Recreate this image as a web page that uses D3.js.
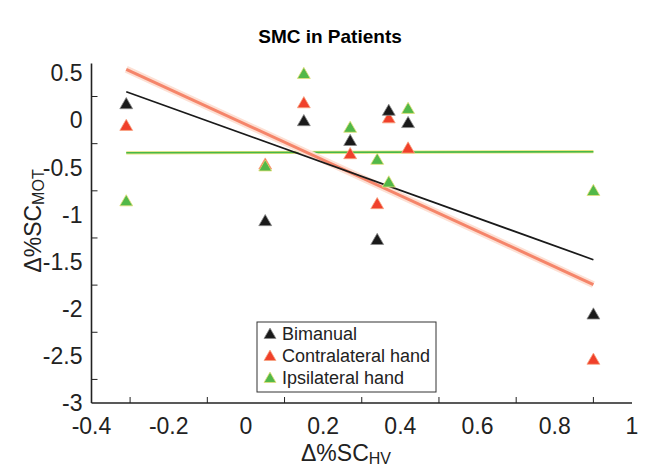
<!DOCTYPE html>
<html>
<head>
<meta charset="utf-8">
<script src="https://cdn.jsdelivr.net/npm/d3@7"></script>
<style>
  body { margin: 0; background: #fff; }
  svg { font-family: "Liberation Sans", Arial, Helvetica, sans-serif; }
</style>
</head>
<body>
<div id="chart"></div>
<script>
// Data: one x value per patient, three conditions
var deltaHV = [-0.31, 0.05, 0.15, 0.27, 0.34, 0.37, 0.42, 0.9];
var bimanual = [0.16, -1.08, -0.02, -0.23, -1.28, 0.09, -0.04, -2.07];
var contralateral = [-0.07, -0.48, 0.17, -0.37, -0.9, 0.01, -0.31, -2.55];
var ipsilateral = [-0.87, -0.5, 0.48, -0.09, -0.43, -0.67, 0.11, -0.76];

var seriesNames = ["Bimanual", "Contralateral hand", "Ipsilateral hand"];
var xTickLabels = [-0.4, -0.2, 0, 0.2, 0.4, 0.6, 0.8, 1];
var yTickLabels = [0.5, 0, -0.5, -1, -1.5, -2, -2.5, -3];
var xMinorTicks = [-0.3, -0.1, 0.1, 0.3, 0.5, 0.7, 0.9];
var yMinorTicks = [0.25, -0.25, -0.75, -1.25, -1.75, -2.25, -2.75];

var W = 651, H = 467;

// least squares fit, drawn across the x range of the data
function fitLine(xs, ys) {
    var mx = d3.mean(xs), my = d3.mean(ys);
    var sxy = d3.sum(xs, function(d, i) { return (d - mx) * (ys[i] - my); });
    var sxx = d3.sum(xs, function(d) { return (d - mx) * (d - mx); });
    var b = sxy / sxx, a = my - b * mx;
    var x0 = d3.min(xs), x1 = d3.max(xs);
    return [[x0, a + b * x0], [x1, a + b * x1]];
}

var x = d3.scaleLinear().domain([-0.4, 1]).range([91.5, 632]);
var y = d3.scaleLinear().domain([-3, 0.6]).range([403, 63.5]);

var svg = d3.select("#chart").append("svg")
    .attr("width", W).attr("height", H);

// Title
svg.append("text")
   .attr("x", 330).attr("y", 43)
   .attr("text-anchor", "middle")
   .style("font-size", "19px")
   .style("font-weight", "bold")
   .text("SMC in Patients");

// Axes: line + inward minor ticks, labels without tick marks
var xAxis = svg.append("g").attr("transform", "translate(0," + y(-3) + ")");
xAxis.append("line")
     .attr("x1", x(-0.4)).attr("x2", x(1))
     .attr("stroke", "#222").attr("stroke-width", 1.6);
xAxis.selectAll(".tick").data(xMinorTicks).enter().append("line")
     .attr("x1", function(d) { return x(d); }).attr("x2", function(d) { return x(d); })
     .attr("y1", 0).attr("y2", -6)
     .attr("stroke", "#222").attr("stroke-width", 1);
xAxis.selectAll(".lbl").data(xTickLabels).enter().append("text")
     .attr("x", function(d) { return x(d); })
     .attr("y", 31)
     .attr("text-anchor", "middle")
     .style("font-size", "23px")
     .attr("fill", "#222")
     .text(function(d) { return d; });

var yAxis = svg.append("g").attr("transform", "translate(" + x(-0.4) + ",0)");
yAxis.append("line")
     .attr("y1", y(-3)).attr("y2", y(0.6))
     .attr("stroke", "#222").attr("stroke-width", 1.6);
yAxis.selectAll(".tick").data(yMinorTicks).enter().append("line")
     .attr("y1", function(d) { return y(d); }).attr("y2", function(d) { return y(d); })
     .attr("x1", 0).attr("x2", 6)
     .attr("stroke", "#222").attr("stroke-width", 1);
yAxis.selectAll(".lbl").data(yTickLabels).enter().append("text")
     .attr("x", -9)
     .attr("y", function(d) { return y(d); })
     .attr("dy", "0.36em")
     .attr("text-anchor", "end")
     .style("font-size", "23px")
     .attr("fill", "#222")
     .text(function(d) { return d; });

// Axis titles
var xt = svg.append("text")
   .attr("x", 346).attr("y", 461)
   .attr("text-anchor", "middle")
   .style("font-size", "23px")
   .attr("fill", "#222");
xt.append("tspan").text("Δ%SC");
xt.append("tspan").style("font-size", "16px").attr("dy", 3).text("HV");

var yt = svg.append("text")
   .attr("transform", "translate(41,221) rotate(-90)")
   .attr("text-anchor", "middle")
   .style("font-size", "23px")
   .attr("fill", "#222");
yt.append("tspan").text("Δ%SC");
yt.append("tspan").style("font-size", "16px").attr("dy", 3).text("MOT");

// Regression lines
var line = d3.line().x(function(d) { return x(d[0]); }).y(function(d) { return y(d[1]); });
var gFit = fitLine(deltaHV, ipsilateral);
var rFit = fitLine(deltaHV, contralateral);
var kFit = fitLine(deltaHV, bimanual);

svg.append("path").attr("d", line(gFit)).attr("fill", "none")
   .attr("stroke", "#e6e27a").attr("stroke-width", 3.2);
svg.append("path").attr("d", line(gFit)).attr("fill", "none")
   .attr("stroke", "#45b84a").attr("stroke-width", 1.6);
svg.append("path").attr("d", line(rFit)).attr("fill", "none")
   .attr("stroke", "#fde0d4").attr("stroke-width", 7);
svg.append("path").attr("d", line(rFit)).attr("fill", "none")
   .attr("stroke", "#f5856a").attr("stroke-width", 3);
svg.append("path").attr("d", line(kFit)).attr("fill", "none")
   .attr("stroke", "#1a1a1a").attr("stroke-width", 1.7);

// Triangle markers
var tri = d3.symbol().type(d3.symbolTriangle).size(72);
var series = [
    {name: seriesNames[1], vals: contralateral, fill: "#f0402a", edge: "#f8a583"},
    {name: seriesNames[0], vals: bimanual, fill: "#1a1a1a", edge: "#8a8a8a"},
    {name: seriesNames[2], vals: ipsilateral, fill: "#52b848", edge: "#e4e07a"}
];
series.forEach(function(s) {
    svg.append("g").selectAll("path").data(s.vals).enter().append("path")
       .attr("d", tri)
       .attr("transform", function(d, i) { return "translate(" + x(deltaHV[i]) + "," + y(d) + ")"; })
       .attr("fill", s.fill)
       .attr("stroke", s.edge).attr("stroke-width", 0.8);
});

// Legend
var leg = svg.append("g").attr("transform", "translate(257,322)");
leg.append("rect").attr("width", 179).attr("height", 70)
   .attr("fill", "#fff").attr("stroke", "#333").attr("stroke-width", 1);
var legItems = [series[1], series[0], series[2]];
legItems.forEach(function(s, i) {
    var cy = 12 + i * 22;
    leg.append("path")
       .attr("d", d3.symbol().type(d3.symbolTriangle).size(62))
       .attr("transform", "translate(13," + (cy + 1) + ")")
       .attr("fill", s.fill).attr("stroke", s.edge).attr("stroke-width", 0.8);
    leg.append("text")
       .attr("x", 25).attr("y", cy).attr("dy", "0.36em")
       .style("font-size", "18px").attr("fill", "#222")
       .text(s.name);
});
</script>
</body>
</html>
